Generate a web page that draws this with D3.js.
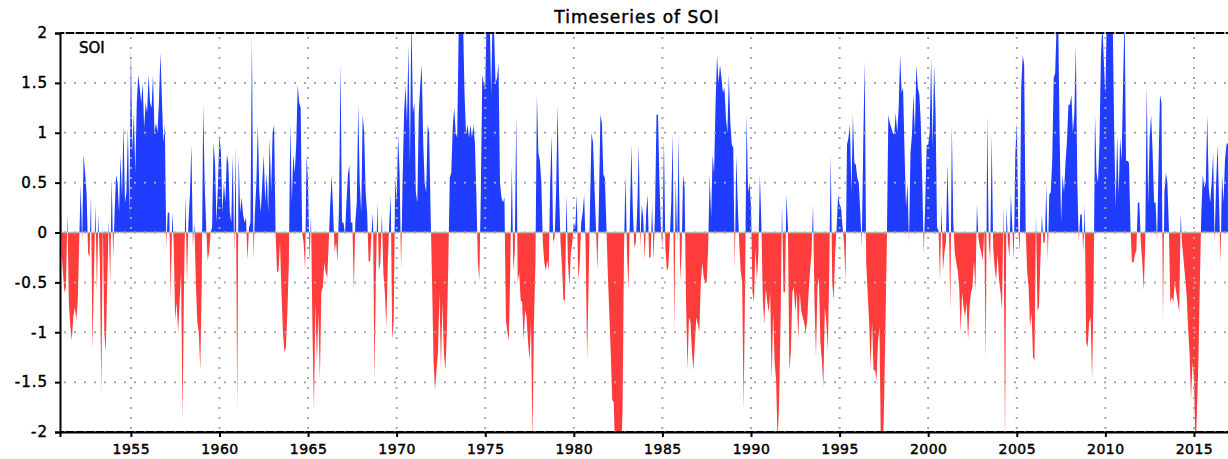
<!DOCTYPE html>
<html>
<head>
<meta charset="utf-8">
<script src="https://cdn.jsdelivr.net/npm/d3@7/dist/d3.min.js"></script>
<style>
    body { margin: 0; background: #fff; }
    svg text { font-family: "DejaVu Sans", sans-serif; fill: #000; stroke: #000; stroke-width: 0.45px; }
</style>
</head>
<body>
<div id="soiChart"></div>
<script>
// monthly SOI, Jan 1951 - Dec 2016 (one row per year)
var startYear = 1951;
var soi = [
    1.4, -0.2, -0.4, -0.6, -0.55, 0.18, -0.7, -0.95, -1.08, -0.85, -0.75, -0.88,
    -0.7, -0.1, 0.48, -0.1, 0.78, 0.6, 0.4, -0.2, -0.25, 0.38, -1.18, -0.4,
    0.28, -0.6, 0.18, -0.3, -1.6, 0.1, -1.0, -1.2, -0.5, 0.12, -0.5, 0.55,
    -0.25, 0.2, 0.58, 0.5, 0.2, 0.78, 0.35, 1.08, 0.3, 0.4, 1.05, 0.15,
    1.85, 0.8, 1.2, 0.6, 1.3, 1.58, 1.45, 1.3, 1.5, 1.05, 1.3, 1.2,
    1.58, 1.3, 1.25, 1.58, 1.0, 1.1, 1.0, 1.3, 1.8, 1.35, 0.9, 1.08,
    -0.15, 0.2, 0.2, -0.68, 0.2, -0.1, -0.88, -0.7, -1.0, -0.7, -0.4, -1.88,
    -0.5, 0.38, -0.5, 0.1, 0.38, 0.88, -0.15, 0.1, -0.5, -0.9, -1.0, -1.38,
    -0.5, 1.28, 0.48, 0.05, -0.28, -0.2, 0.0, 0.05, 0.9, 0.7, 0.1, 0.5,
    0.98, 0.8, 0.2, 0.5, 0.3, 0.78, 0.7, 0.2, 0.1, 0.78, -0.22, 0.88,
    -1.78, 0.78, 0.2, 0.35, 0.18, 0.1, 0.15, -0.28, 0.05, 0.1, 1.98, -0.28,
    0.2, 0.5, 1.08, 0.4, 0.2, 0.5, 0.78, 0.3, 0.6, 0.2, 0.95, 0.4,
    1.0, 1.08, 0.0, -0.4, -0.38, -0.1, -0.6, -1.0, -1.2, -1.15, -0.8, -0.3,
    1.1, 0.3, 0.78, 0.6, 0.9, 1.48, 1.3, 1.25, 0.0, -0.1, -0.38, 0.78,
    0.5, -0.3, 0.18, -1.0, -1.78, -0.7, -1.3, -0.8, -1.48, -0.6, -0.55, -0.3,
    -0.4, -0.45, -0.1, 0.28, 0.58, 0.2, -0.2, -0.1, -0.3, 0.3, 1.7, 0.1,
    0.1, -0.02, 0.3, 0.58, 0.68, 0.1, 0.1, -0.58, 0.1, 0.3, 1.28, 0.5,
    0.2, 1.18, 1.0, 0.4, 0.2, -0.28, -0.3, 0.0, 0.2, -1.48, -0.38, 0.3,
    -0.38, -0.3, 0.18, -0.4, -0.6, -0.95, -0.3, 0.1, 0.38, -1.08, -0.9, 0.55,
    0.3, 0.98, 0.6, -0.38, 0.5, 1.18, 1.48, 1.1, 1.88, 0.7, 2.2, 1.2,
    1.3, 0.4, 0.3, 1.2, 1.48, 1.68, 0.9, 0.5, 0.4, 1.08, 1.0, 0.2,
    -0.5, -1.3, -1.58, -1.38, -1.2, -0.6, -1.35, -0.7, -1.2, -1.38, -1.0, -0.3,
    0.55, 0.6, 1.05, 1.25, 1.0, 0.95, 2.0, 2.3, 2.2, 2.1, 1.38, 0.98,
    1.08, 0.95, 1.08, 0.95, 1.08, 0.9, 0.38, -0.3, -0.48, 0.38, 1.58, 1.5,
    1.45, 2.2, 2.1, 2.2, 1.38, 2.2, 2.0, 1.5, 1.55, 1.7, 0.5, 0.35,
    0.3, 0.35, -0.88, -1.0, -1.08, -0.3, 0.68, -0.38, -0.2, 1.18, -0.5, -0.4,
    -0.68, -0.7, -1.08, -0.78, -0.85, -1.1, -1.28, -0.9, -2.1, -0.9, -0.3, 1.38,
    0.8, 0.72, 0.5, -0.1, -0.3, -0.38, -0.28, -0.38, 0.5, 0.98, -0.1, -0.05,
    0.4, 1.28, 0.4, -0.1, -0.35, -0.68, -0.68, 0.38, -0.28, -0.55, -0.2, -0.1,
    0.1, 0.05, 0.38, -0.48, -0.3, 0.1, 0.2, 0.38, -0.15, -1.28, -0.5, 0.3,
    1.0, 0.9, 0.45, 0.05, -0.38, 0.3, 1.18, 1.1, 0.58, 0.55, 0.1, -0.4,
    -0.8, -1.2, -1.68, -1.7, -2.2, -2.3, -2.2, -2.4, -2.2, -1.8, -0.15, 0.58,
    -0.2, -0.58, 0.18, 0.88, 0.2, -0.15, -0.1, 0.25, 0.88, -0.15, 0.28, 0.15,
    -0.28, 0.2, 0.38, -0.25, -0.25, 0.28, -0.28, 0.2, 1.18, 1.18, 0.5, 0.02,
    -0.15, 0.95, -0.15, -0.38, -0.35, -0.05, 0.3, 1.0, -1.0, 0.55, -0.1, 0.98,
    -0.48, -0.2, 0.58, 0.45, -0.7, -1.38, -0.85, -0.9, -1.2, -1.38, -1.1, -0.85,
    -0.92, -1.0, -0.5, -0.3, -0.45, -0.5, -0.5, -0.15, 0.58, 0.15, 0.78, 0.6,
    1.3, 1.78, 1.5, 1.68, 1.55, 1.4, 1.45, 1.15, 1.0, 1.58, 1.1, 0.88,
    0.85, -0.38, 0.78, 0.3, -0.1, -0.38, -0.5, -1.78, -0.5, 1.18, 0.4, 0.5,
    0.25, -0.6, -0.7, -0.15, -0.48, -0.2, 0.58, 0.1, -0.68, -0.92, -0.55, -0.7,
    -0.8, -0.6, -1.48, -0.8, -1.3, -1.48, -2.1, -1.72, -0.9, 0.28, -0.6, -0.6,
    0.38, 0.05, -1.38, -1.2, -0.6, -0.55, -0.8, -0.6, -1.08, -0.6, -0.78, -0.85,
    -0.9, -1.0, -0.9, -0.6, -0.38, -0.2, 0.28, -0.7, -1.25, -0.55, -0.45, -1.1,
    -1.28, -1.55, -0.75, -0.9, -1.18, -0.38, 0.78, -0.5, -0.68, -0.2, 0.05, 0.38,
    0.28, 0.25, 0.05, -0.1, -0.48, 0.88, 0.95, 1.08, 0.4, 1.18, 0.7, 0.68,
    0.55, 0.5, 0.2, -0.15, 0.88, 1.72, -0.3, -0.6, -0.9, -1.35, -0.9, -1.38,
    -1.38, -1.48, -1.1, -0.95, -2.2, -2.3, -1.8, -1.0, -0.1, 1.18, 1.1, 1.05,
    1.0, 0.98, 1.2, 1.0, 1.25, 1.78, 1.4, 1.45, 0.8, 0.25, 0.5, -0.1,
    0.8, 0.98, 1.38, 1.0, 1.68, 1.45, 1.38, 1.1, 0.5, -0.22, 0.3, 0.88,
    0.88, 1.0, 1.75, 0.85, 1.68, 1.2, 0.05, 0.02, -0.48, 0.28, -0.38, -0.2,
    -0.1, 0.68, 0.1, -0.78, 1.08, 0.1, -0.2, -0.3, -0.38, -0.55, -1.0, -0.6,
    -0.75, -0.85, -0.7, -1.08, -0.75, -0.6, -0.55, -0.28, -0.58, 0.28, -0.05, -0.15,
    -0.2, -0.28, 0.02, -1.28, 1.18, -0.1, -0.28, 0.98, -0.15, -0.35, -0.48, -0.22,
    -0.48, -0.6, -0.78, 0.28, -2.1, 0.25, -0.1, -0.25, 0.38, 0.05, -0.28, 0.78,
    1.1, 0.05, -0.2, 1.45, 1.78, 1.68, 0.05, -0.38, -0.55, -0.95, -0.8, -1.25,
    -1.28, 0.18, -0.78, -0.75, -0.28, 0.18, -0.1, -0.1, 0.48, -0.28, 0.38, 0.4,
    0.72, 1.55, 1.6, 2.1, 2.2, 1.0, 0.1, 0.58, 0.4, 0.7, 0.92, 1.28,
    1.28, 1.38, 1.0, 1.2, 1.88, 0.5, -0.1, 0.18, 0.18, -0.2, 0.28, -1.1,
    -1.15, -0.9, -0.85, -1.48, -0.6, 1.18, 0.6, 0.5, 0.9, 1.78, 2.1, 1.7,
    1.38, 2.2, 2.3, 2.1, 2.2, 2.1, 0.98, 0.25, 0.98, 0.38, 0.95, 0.72,
    1.5, 2.2, 0.72, 0.72, 0.7, 0.05, -0.3, -0.3, -0.22, -0.18, 0.3, 0.3,
    -0.1, -0.3, -0.58, -0.1, 1.48, 0.28, 0.95, 1.18, 0.8, 0.3, 0.3, -0.1,
    0.68, 1.38, 1.3, -0.88, 0.4, 0.6, 0.5, 0.05, -0.7, -0.65, -0.7, -0.5,
    -0.6, -0.7, -0.8, 0.18, -0.12, -0.28, -0.45, -0.62, -0.95, -1.2, -1.68, -1.3,
    -1.45, -2.2, -1.8, -1.3, -0.5, 0.2, 0.58, 0.45, 0.5, 1.18, 0.45, 0.3,
    0.5, 0.8, -0.1, 0.5, 0.88, 0.3, -0.3, 0.58, 0.3, 0.72, 0.88, 0.9
];

var yTicks = [2, 1.5, 1, 0.5, 0, -0.5, -1, -1.5, -2];
var yearTicks = [1955, 1960, 1965, 1970, 1975, 1980, 1985, 1990, 1995, 2000, 2005, 2010, 2015];

var svg = d3.select('#soiChart')
    .append('svg')
    .attr('width', 1228)
    .attr('height', 459);

var x = d3.scaleLinear()
    .domain([1951, 2017])
    .range([60, 1229.4]);

var y = d3.scaleLinear()
    .domain([-2, 2])
    .range([432, 33]);

var data = soi.map(function (v, i) {
    return {t: startYear + i / 12, v: v};
});

// clip regions: above / below zero, inside the frame
var defs = svg.append('defs');
defs.append('clipPath').attr('id', 'clipUp')
    .append('rect')
    .attr('x', x.range()[0]).attr('y', y(2))
    .attr('width', x.range()[1] - x.range()[0]).attr('height', y(0) - y(2));
defs.append('clipPath').attr('id', 'clipDown')
    .append('rect')
    .attr('x', x.range()[0]).attr('y', y(0))
    .attr('width', x.range()[1] - x.range()[0]).attr('height', y(-2) - y(0));

var area = d3.area()
    .x(function (d) { return x(d.t); })
    .y0(y(0))
    .y1(function (d) { return y(d.v); });

svg.append('path')
    .datum(data)
    .attr('clip-path', 'url(#clipUp)')
    .attr('fill', '#1f3cff')
    .attr('d', area);

svg.append('path')
    .datum(data)
    .attr('clip-path', 'url(#clipDown)')
    .attr('fill', '#ff3c3c')
    .attr('d', area);

// frame lines top / bottom
svg.append('g')
    .selectAll('line')
    .data([2, -2])
    .enter()
    .append('line')
    .attr('x1', x.range()[0]).attr('x2', x.range()[1])
    .attr('y1', function (d) { return y(d); })
    .attr('y2', function (d) { return y(d); })
    .attr('stroke', '#000')
    .attr('stroke-width', 2);

// zero line
svg.append('line')
    .attr('x1', x.range()[0]).attr('x2', x.range()[1])
    .attr('y1', y(0)).attr('y2', y(0))
    .attr('stroke', '#b8b8b8')
    .attr('stroke-width', 1.5);

// dotted grid
var grid = svg.append('g')
    .attr('stroke', '#a8a8a8')
    .attr('stroke-width', 2)
    .attr('stroke-dasharray', '2,8');

grid.selectAll('.hgrid')
    .data(yTicks)
    .enter()
    .append('line')
    .attr('class', 'hgrid')
    .attr('x1', x.range()[0] + 4).attr('x2', x.range()[1])
    .attr('y1', function (d) { return y(d); })
    .attr('y2', function (d) { return y(d); });

grid.selectAll('.vgrid')
    .data(yearTicks)
    .enter()
    .append('line')
    .attr('class', 'vgrid')
    .attr('x1', function (d) { return x(d); })
    .attr('x2', function (d) { return x(d); })
    .attr('y1', y(2) + 4).attr('y2', y(-2));

// axes
var yAxis = svg.append('g')
    .attr('transform', 'translate(' + x.range()[0] + ',0)')
    .call(d3.axisLeft(y)
        .tickValues(yTicks)
        .tickSize(5)
        .tickPadding(7)
        .tickFormat(function (d) { return String(d); }));

var xAxis = svg.append('g')
    .attr('transform', 'translate(0,' + y(-2) + ')')
    .call(d3.axisBottom(x)
        .tickValues(yearTicks)
        .tickSize(5)
        .tickPadding(7)
        .tickFormat(d3.format('d')));

[yAxis, xAxis].forEach(function (a) {
    a.selectAll('.domain').attr('stroke', '#000').attr('stroke-width', 2);
    a.selectAll('.tick line').attr('stroke', '#000').attr('stroke-width', 2);
    a.selectAll('text')
        .attr('font-family', '"DejaVu Sans", sans-serif')
        .attr('fill', '#000');
});
yAxis.selectAll('text').attr('font-size', 15).attr('letter-spacing', 1);
xAxis.selectAll('text').attr('font-size', 14).attr('letter-spacing', 0.5);

// title and label
svg.append('text')
    .attr('x', 637)
    .attr('y', 23)
    .attr('text-anchor', 'middle')
    .attr('font-size', 17)
    .attr('letter-spacing', 1)
    .text('Timeseries of SOI');

svg.append('text')
    .attr('x', 79)
    .attr('y', 53)
    .attr('font-size', 15)
    .text('SOI');
</script>
</body>
</html>
